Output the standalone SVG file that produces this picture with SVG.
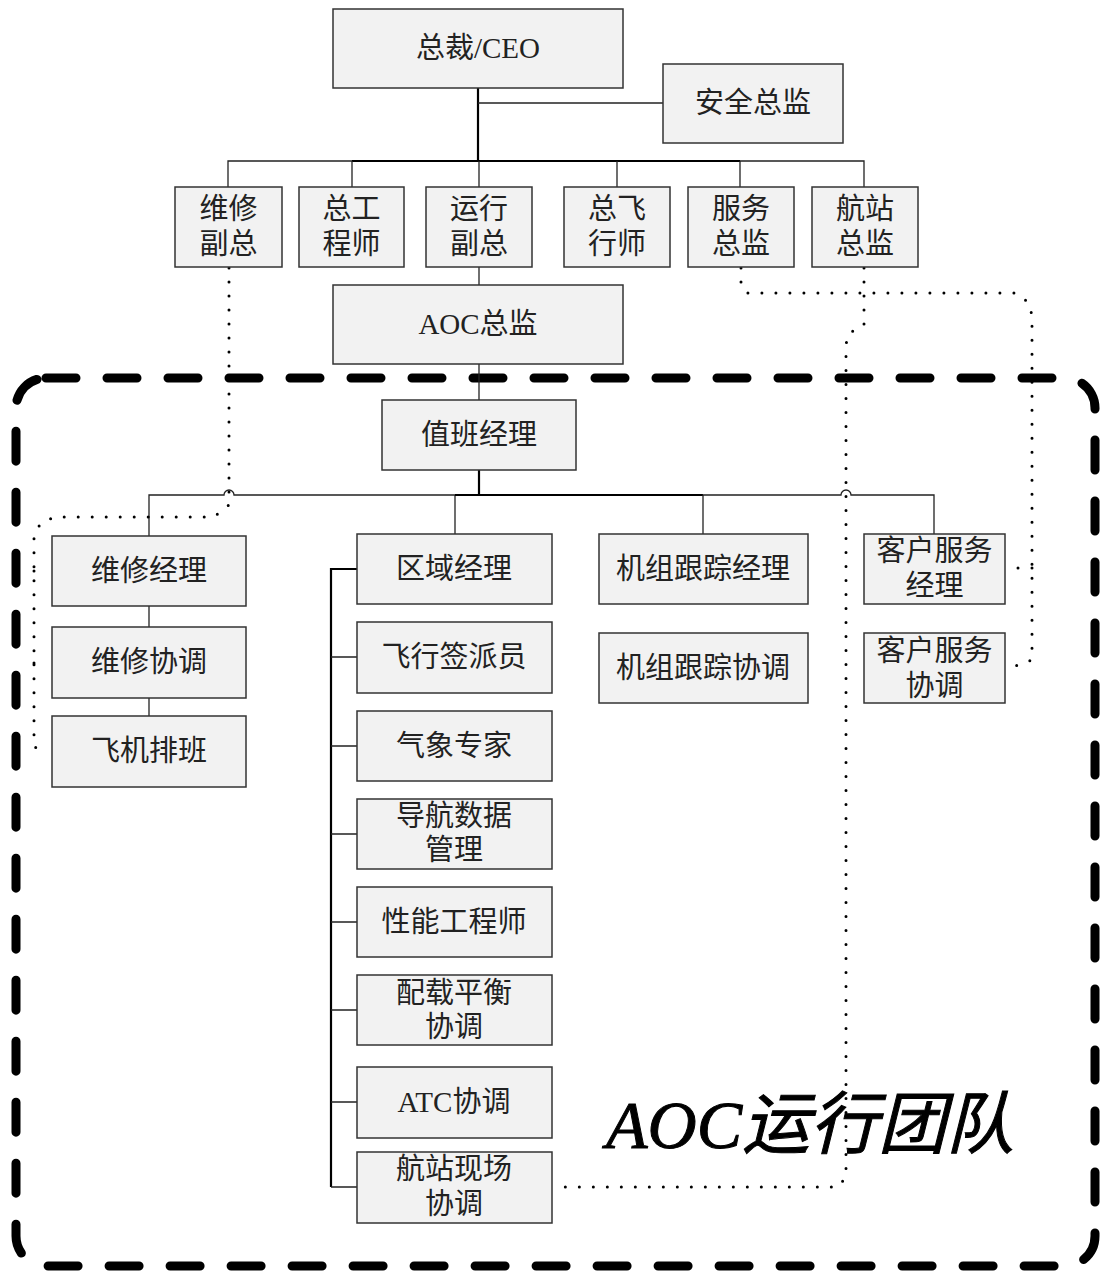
<svg xmlns="http://www.w3.org/2000/svg" width="1101" height="1273" viewBox="0 0 1101 1273">
<defs>
<style>
.box{fill:#f2f2f2;stroke:#333;stroke-width:1.5}
.t{font-family:"Liberation Serif","Noto Sans CJK SC",serif;font-size:29px;fill:#222;text-anchor:middle;dominant-baseline:central}
.thin{fill:none;stroke:#222;stroke-width:1.3}
.thick{fill:none;stroke:#000;stroke-width:2.2}
.dot{fill:none;stroke:#000;stroke-width:3;stroke-dasharray:0 14;stroke-linecap:round;stroke-linejoin:round}
.team{fill:none;stroke:#000;stroke-width:9;stroke-dasharray:30 31;stroke-linecap:round}
.big{font-family:"Liberation Serif","Noto Sans CJK SC",serif;font-size:68px;font-style:italic;fill:#000;stroke:#000;stroke-width:1}
</style>
</defs>
<rect class="team" x="16" y="378" width="1079" height="888" rx="30" ry="30"/>
<g id="connectors">
<path class="thick" d="M478 88 V161"/>
<path class="thin" d="M478 103 H663"/>
<path class="thin" d="M228 187 V161 H352"/>
<path class="thick" d="M352 161 H740"/>
<path class="thin" d="M740 161 H864 V187"/>
<path class="thin" d="M352 161 V187 M479 161 V187 M617 161 V187 M740 161 V187"/>
<path class="thin" d="M479 267 V285"/>
<path class="thin" d="M479 364 V400"/>
<path class="thick" d="M479 470 V495"/>
<path class="thin" d="M149 536 V495 H224 A5 5 0 0 1 234 495 H455 V534"/>
<path class="thick" d="M455 495 H703"/>
<path class="thin" d="M703 534 V495 H841 A5 5 0 0 1 851 495 H934 V534"/>
<path class="thin" d="M149 606 V627 M149 698 V716"/>
<path class="thick" d="M357 569 H331 V1187"/>
<path class="thin" d="M331 657 H357 M331 746 H357 M331 834 H357 M331 922 H357 M331 1010 H357 M331 1102 H357 M331 1187 H357"/>
<path class="dot" d="M229 268 V505 L214 517 H54 L40 524 L34 537 V747 L48 752"/>
<path class="dot" d="M34 571 H48 M34 663 H48"/>
<path class="dot" d="M741 268 V282 L746 293 H1016 L1028 302 L1032 315 V660 L1010 668"/>
<path class="dot" d="M1032 568 H1008"/>
<path class="dot" d="M864 268 V325 L848 334 L846 345 V1177 L838 1187 H555"/>
</g>
<g id="ceo"><rect class="box" x="333" y="9" width="290" height="79"/><text class="t" x="478" y="48">总裁/CEO</text></g>
<g id="safety"><rect class="box" x="663" y="64" width="180" height="79"/><text class="t" x="753" y="103">安全总监</text></g>
<g id="vp_maint"><rect class="box" x="175" y="187" width="107" height="80"/><text class="t" x="228.5" y="209">维修</text><text class="t" x="228.5" y="244">副总</text></g>
<g id="chief_eng"><rect class="box" x="299" y="187" width="105" height="80"/><text class="t" x="351.5" y="209">总工</text><text class="t" x="351.5" y="244">程师</text></g>
<g id="vp_ops"><rect class="box" x="426" y="187" width="106" height="80"/><text class="t" x="479" y="209">运行</text><text class="t" x="479" y="244">副总</text></g>
<g id="chief_pilot"><rect class="box" x="564" y="187" width="106" height="80"/><text class="t" x="617" y="209">总飞</text><text class="t" x="617" y="244">行师</text></g>
<g id="svc_dir"><rect class="box" x="688" y="187" width="106" height="80"/><text class="t" x="741" y="209">服务</text><text class="t" x="741" y="244">总监</text></g>
<g id="stn_dir"><rect class="box" x="812" y="187" width="106" height="80"/><text class="t" x="865" y="209">航站</text><text class="t" x="865" y="244">总监</text></g>
<g id="aoc_dir"><rect class="box" x="333" y="285" width="290" height="79"/><text class="t" x="478" y="324">AOC总监</text></g>
<g id="duty_mgr"><rect class="box" x="382" y="400" width="194" height="70"/><text class="t" x="479" y="435">值班经理</text></g>
<g id="maint_mgr"><rect class="box" x="52" y="536" width="194" height="70"/><text class="t" x="149" y="571">维修经理</text></g>
<g id="maint_coord"><rect class="box" x="52" y="627" width="194" height="71"/><text class="t" x="149" y="662">维修协调</text></g>
<g id="ac_sched"><rect class="box" x="52" y="716" width="194" height="71"/><text class="t" x="149" y="751">飞机排班</text></g>
<g id="area_mgr"><rect class="box" x="357" y="534" width="195" height="70"/><text class="t" x="454" y="569">区域经理</text></g>
<g id="dispatcher"><rect class="box" x="357" y="622" width="195" height="71"/><text class="t" x="454" y="657">飞行签派员</text></g>
<g id="met"><rect class="box" x="357" y="711" width="195" height="70"/><text class="t" x="454" y="746">气象专家</text></g>
<g id="nav"><rect class="box" x="357" y="799" width="195" height="70"/><text class="t" x="454" y="816">导航数据</text><text class="t" x="454" y="850">管理</text></g>
<g id="perf"><rect class="box" x="357" y="887" width="195" height="70"/><text class="t" x="454" y="922">性能工程师</text></g>
<g id="wb"><rect class="box" x="357" y="975" width="195" height="70"/><text class="t" x="454" y="993">配载平衡</text><text class="t" x="454" y="1027">协调</text></g>
<g id="atc"><rect class="box" x="357" y="1067" width="195" height="71"/><text class="t" x="454" y="1102">ATC协调</text></g>
<g id="stn_coord"><rect class="box" x="357" y="1152" width="195" height="71"/><text class="t" x="454" y="1169">航站现场</text><text class="t" x="454" y="1204">协调</text></g>
<g id="crew_mgr"><rect class="box" x="599" y="534" width="209" height="70"/><text class="t" x="703" y="569">机组跟踪经理</text></g>
<g id="crew_coord"><rect class="box" x="599" y="633" width="209" height="70"/><text class="t" x="703" y="668">机组跟踪协调</text></g>
<g id="cs_mgr"><rect class="box" x="864" y="534" width="141" height="70"/><text class="t" x="934.5" y="551">客户服务</text><text class="t" x="934.5" y="586">经理</text></g>
<g id="cs_coord"><rect class="box" x="864" y="633" width="141" height="70"/><text class="t" x="934.5" y="651">客户服务</text><text class="t" x="934.5" y="686">协调</text></g>
<text class="big" x="606" y="1148">AOC运行团队</text>
</svg>
